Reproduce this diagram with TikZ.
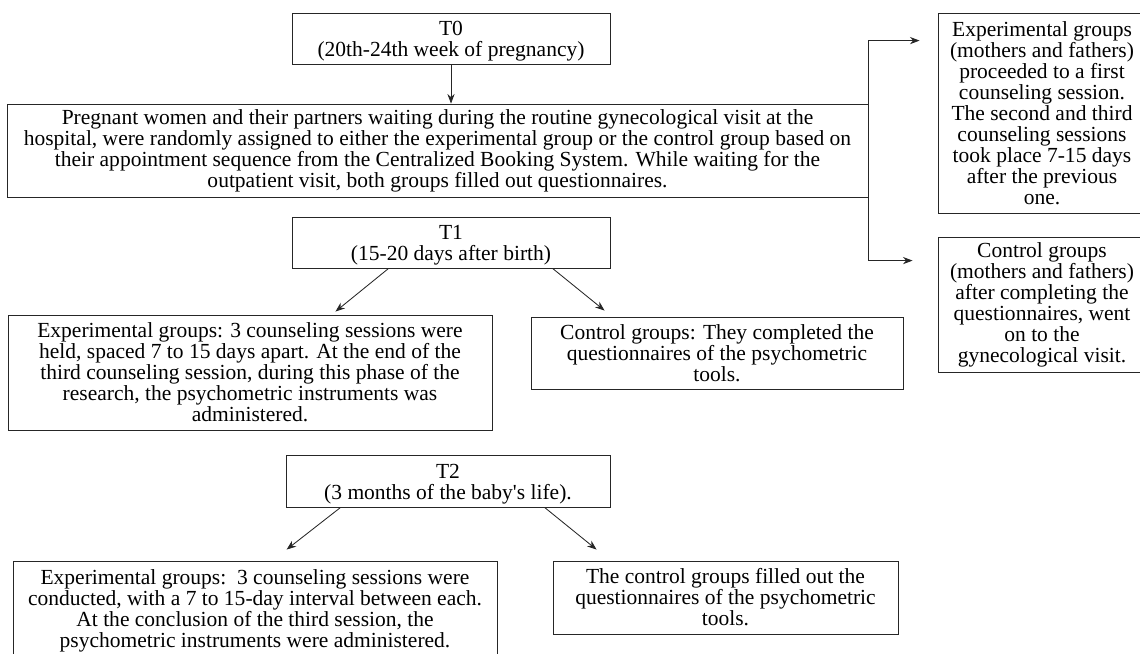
\documentclass[tikz,border=0pt]{standalone}
\usepackage{fontspec}
\setmainfont{Liberation Serif}
\usepackage{tikz}
\usetikzlibrary{arrows.meta,positioning,calc}

\begin{document}
\begin{tikzpicture}[
  box/.style={draw=black!85, line width=0.6pt, align=center, inner sep=2pt,
    font=\fontsize{15.3}{14.95}\selectfont},
  tbox/.style={box, inner ysep=0.5pt, minimum height=1.275cm},
  arr/.style={draw=black!85, line width=0.6pt, -{Stealth[length=2.4mm,width=1.8mm]}}]
\useasboundingbox (0,0) rectangle (28.5,-16.325);
% time points
\node[tbox, minimum width=7.95cm] (T0) at (11.275,-0.9625)
  {\rule{0pt}{0.95em}T0\\(20th-24th week of pregnancy)};
\node[box, minimum width=21.525cm, minimum height=2.325cm] (visit) at (10.9375,-3.7625)
  {Pregnant women and their partners waiting during the routine gynecological visit at the\\
   hospital, were randomly assigned to either the experimental group or the control group based on\\
   their appointment sequence from the Centralized Booking System. While waiting for the\\
   outpatient visit, both groups filled out questionnaires.};
\node[tbox, minimum width=7.95cm] (T1) at (11.275,-6.0625)
  {\rule{0pt}{0.95em}T1\\(15-20 days after birth)};
\node[box, minimum width=12.1cm, minimum height=2.875cm] (expT1) at (6.25,-9.3125)
  {Experimental groups: 3 counseling sessions were\\
   held, spaced 7 to 15 days apart. At the end of the\\
   third counseling session, during this phase of the\\
   research, the psychometric instruments was\\
   administered.};
\node[box, minimum width=9.3cm, minimum height=1.8cm] (ctlT1) at (17.925,-8.825)
  {Control groups: They completed the\\
   questionnaires of the psychometric\\
   tools.};
\node[tbox, minimum width=8.1cm, minimum height=1.3cm] (T2) at (11.2,-12.025)
  {\rule{0pt}{0.95em}T2\\(3 months of the baby\textquotesingle s life).};
\node[box, minimum width=12.1cm, minimum height=2.475cm] (expT2) at (6.375,-15.2625)
  {Experimental groups:\ \ 3 counseling sessions were\\
   conducted, with a 7 to 15-day interval between each.\\
   At the conclusion of the third session, the\\
   psychometric instruments were administered.};
\node[box, minimum width=8.625cm, minimum height=1.825cm] (ctlT2) at (18.1375,-14.9375)
  {The control groups filled out the\\
   questionnaires of the psychometric\\
   tools.};
% side boxes (T0 branch)
\node[box, minimum width=5.2cm, minimum height=5cm] (expT0) at (26.05,-2.825)
  {Experimental groups\\(mothers and fathers)\\proceeded to a first\\counseling session.\\
   The second and third\\counseling sessions\\took place 7-15 days\\after the previous\\one.};
\node[box, minimum width=5.2cm, minimum height=3.375cm] (ctlT0) at (26.05,-7.6125)
  {Control groups\\(mothers and fathers)\\after completing the\\questionnaires, went\\
   on to the\\gynecological visit.};
\coordinate (toExp) at ($(expT0.north west)+(-0.45,-0.7)$);
\coordinate (toCtl) at ($(ctlT0.north west)+(-0.625,-0.6)$);

\draw[arr] (T0.south) -- (T0.south |- visit.north);
\draw[arr] (visit.north east) |- (toExp);
\draw[arr] (visit.south east) |- (toCtl);
\draw[arr] ($(T1.south west)+(2.425,0)$) -- ($(expT1.north east)+(-3.925,0.075)$);
\draw[arr] ($(T1.south west)+(6.525,0)$) -- ($(ctlT1.north west)+(1.85,0.15)$);
\draw[arr] ($(T2.south west)+(1.375,0)$) -- ($(expT2.north west)+(6.85,0.275)$);
\draw[arr] ($(T2.south west)+(6.475,0)$) -- ($(ctlT2.north west)+(1.1,0.275)$);
\end{tikzpicture}
\end{document}
